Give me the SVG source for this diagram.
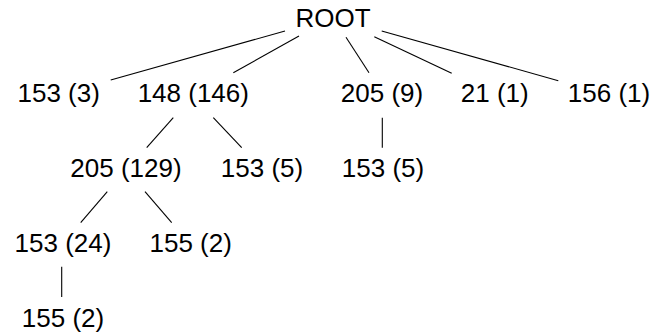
<svg xmlns="http://www.w3.org/2000/svg" width="668" height="336" viewBox="0 0 668 336">
<style>
text{font-family:"Liberation Sans",Arial,sans-serif;font-size:26px;fill:#000;text-anchor:middle}
line{stroke:#000;stroke-width:1.1}
</style>
<rect width="668" height="336" fill="#fff"/>
<g id="edges">
<line x1="285" y1="31" x2="110.7" y2="80"/>
<line x1="299" y1="36" x2="233.3" y2="72.7"/>
<line x1="346" y1="37.3" x2="369" y2="72.7"/>
<line x1="374.3" y1="36.7" x2="451.7" y2="73.3"/>
<line x1="381.7" y1="31" x2="558.3" y2="80.7"/>
<line x1="173.3" y1="117.7" x2="146.7" y2="147.7"/>
<line x1="213.3" y1="117.7" x2="241.7" y2="147.7"/>
<line x1="382.3" y1="117.7" x2="382.3" y2="147.7"/>
<line x1="107.3" y1="191.7" x2="80.7" y2="222.7"/>
<line x1="145" y1="191.7" x2="171.7" y2="222.7"/>
<line x1="61.7" y1="266.7" x2="61.7" y2="297"/>
</g>
<g id="root"><text x="333" y="26.7">ROOT</text></g>
<g id="n153a"><text x="58.7" y="101.7">153 (3)</text></g>
<g id="n148"><text x="193.3" y="101.7">148 (146)</text></g>
<g id="n205a"><text x="382" y="101.7">205 (9)</text></g>
<g id="n21"><text x="494.7" y="101.7">21 (1)</text></g>
<g id="n156"><text x="609" y="101.7">156 (1)</text></g>
<g id="n205b"><text x="126" y="176.7">205 (129)</text></g>
<g id="n153b"><text x="262" y="176.7">153 (5)</text></g>
<g id="n153c"><text x="383" y="176.7">153 (5)</text></g>
<g id="n153d"><text x="63" y="251.7">153 (24)</text></g>
<g id="n155a"><text x="190.7" y="251.7">155 (2)</text></g>
<g id="n155b"><text x="63" y="326.7">155 (2)</text></g>
</svg>
